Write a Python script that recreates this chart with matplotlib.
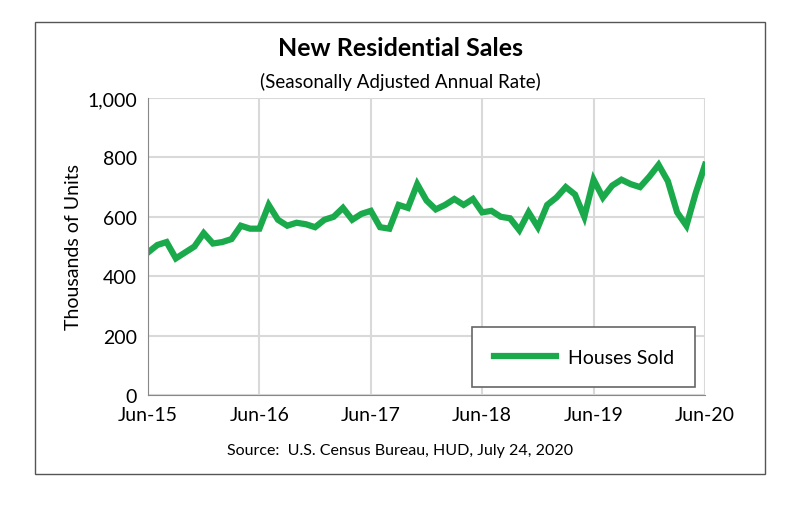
import matplotlib.pyplot as plt
import matplotlib.patches as patches

plt.rcParams['font.family'] = ['Lato', 'DejaVu Sans']

# Monthly sales, Jun-15 .. Jun-20 (thousands, SAAR)
sales = [480, 505, 515, 460, 480, 500, 545, 510, 515, 525, 570, 560,
         560, 640, 590, 570, 580, 575, 565, 590, 600, 630, 590, 610,
         620, 565, 560, 640, 630, 710, 655, 625, 640, 660, 640, 660,
         615, 620, 600, 595, 555, 615, 565, 640, 665, 700, 675, 600,
         725, 665, 705, 725, 710, 700, 735, 775, 720, 615, 570, 680,
         775]
tick_labels = ["Jun-15", "Jun-16", "Jun-17", "Jun-18", "Jun-19", "Jun-20"]
months = list(range(len(sales)))

fig = plt.figure(figsize=(8, 5.06), dpi=100)
ax = fig.add_axes([148/800, 1-396/506, 557/800, 297/506])

# outer frame
fig.patches.append(patches.Rectangle((35/800, 1-475/506), 730/800, 452/506,
                                     transform=fig.transFigure, fill=False,
                                     edgecolor='#555555', linewidth=1))

ax.plot(months, sales, color='#1aaa4b', linewidth=4.5, label='Houses Sold',
        solid_joinstyle='miter')
ax.set_xlim(0, 60)
ax.set_ylim(0, 1000)
ax.set_xticks(range(0, 61, 12))
ax.set_xticklabels(tick_labels, fontsize=14)
ax.set_yticks(range(0, 1001, 200))
ax.set_yticklabels(["0", "200", "400", "600", "800", "1,000"], fontsize=14)
ax.tick_params(length=0, pad=8)
ax.grid(True, color='#d9d9d9', linewidth=1.5)
for s in ['top', 'right']:
    ax.spines[s].set_visible(False)
for s in ['left', 'bottom']:
    ax.spines[s].set_color('#888888')
ax.set_ylabel("Thousands of Units", fontsize=14, labelpad=4)

leg = ax.legend(loc='lower right', bbox_to_anchor=(0.97, 0.05), fontsize=14,
                fancybox=False, framealpha=1, edgecolor='#666666',
                handlelength=3.2, borderpad=0.75, borderaxespad=0,
                handletextpad=0.6)
leg.get_frame().set_linewidth(1.2)
leg.get_frame().set_boxstyle('square', pad=0.35)

fig.text(0.5, 1-48/506, "New Residential Sales", ha='center', va='center',
         fontsize=18, fontweight='bold')
fig.text(0.5, 1-82/506, "(Seasonally Adjusted Annual Rate)", ha='center',
         va='center', fontsize=13.5)
fig.text(0.5, 1-451/506, "Source:  U.S. Census Bureau, HUD, July 24, 2020",
         ha='center', va='center', fontsize=11.5)

fig.savefig("out.png", dpi=100)
